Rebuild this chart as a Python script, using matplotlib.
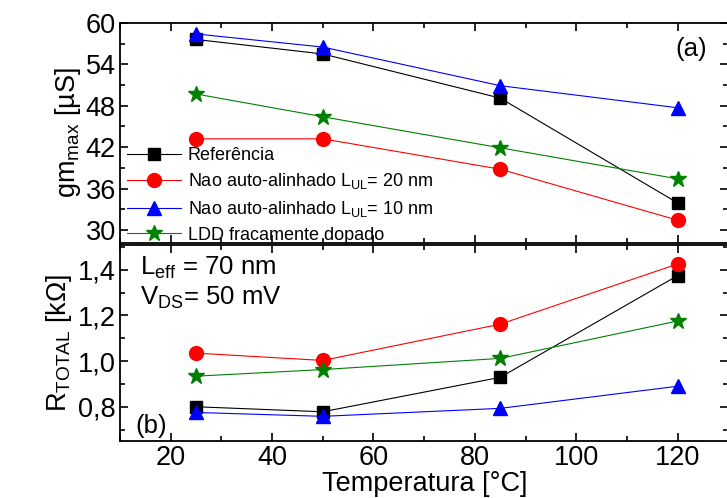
import numpy as np
import matplotlib
matplotlib.use("Agg")
from matplotlib import pyplot as plt
from matplotlib.ticker import MultipleLocator

plt.rcParams['font.family'] = ['Liberation Sans', 'DejaVu Sans']
plt.rcParams['mathtext.fontset'] = 'custom'
plt.rcParams['mathtext.rm'] = 'Liberation Sans'
plt.rcParams['mathtext.it'] = 'Liberation Sans'

temp = [25, 50, 85, 120]

gm_ref = [57.6, 55.5, 49.1, 33.9]
gm_l20 = [43.2, 43.2, 38.8, 31.4]
gm_l10 = [58.4, 56.5, 50.9, 47.7]
gm_ldd = [49.7, 46.4, 41.9, 37.4]

r_ref = [0.800, 0.778, 0.929, 1.375]
r_l20 = [1.035, 1.003, 1.162, 1.426]
r_l10 = [0.775, 0.758, 0.793, 0.890]
r_ldd = [0.934, 0.963, 1.012, 1.176]

labels = ["Referência",
          "Nao auto-alinhado L$_{UL}$= 20 nm",
          "Nao auto-alinhado L$_{UL}$= 10 nm",
          "LDD fracamente dopado"]
colors = ["black", "red", "blue", "green"]
markers = ["s", "o", "^", "*"]
msizes = [9, 10, 10, 12]

fig = plt.figure(figsize=(7.27, 4.98), dpi=100)
ax1 = fig.add_axes([0.165, 0.512, 0.837, 0.442])
ax2 = fig.add_axes([0.165, 0.1145, 0.837, 0.394])

for y, c, m, ms, lab in zip([gm_ref, gm_l20, gm_l10, gm_ldd], colors, markers, msizes, labels):
    ax1.plot(temp, y, color=c, marker=m, ms=ms, lw=0.8, label=lab)
for y, c, m, ms in zip([r_ref, r_l20, r_l10, r_ldd], colors, markers, msizes):
    ax2.plot(temp, y, color=c, marker=m, ms=ms, lw=0.8)

for ax in (ax1, ax2):
    ax.set_xlim(10, 130)
    ax.xaxis.set_major_locator(MultipleLocator(20))
    ax.xaxis.set_minor_locator(MultipleLocator(10))
    ax.tick_params(which='both', direction='in', top=True, right=True, width=1.2)
    ax.tick_params(which='major', length=6, labelsize=19.5, pad=3)
    ax.tick_params(which='minor', length=3.5)
    for s in ax.spines.values():
        s.set_linewidth(1.3)

ax1.set_ylim(28.1, 60)
ax1.yaxis.set_major_locator(MultipleLocator(6))
ax1.yaxis.set_minor_locator(MultipleLocator(3))
ax1.tick_params(labelbottom=False)
ax1.set_ylabel("gm$_{max}$ [µS]", fontsize=19.5, labelpad=2)
ax1.text(0.965, 0.85, "(a)", transform=ax1.transAxes, fontsize=18.5, ha='right')
ax1.legend(loc='lower left', bbox_to_anchor=(-0.01, -0.06), frameon=False, fontsize=13,
           handlelength=3, handletextpad=0.4, labelspacing=0.42, borderpad=0.2)

ax2.set_ylim(0.65, 1.51)
ax2.yaxis.set_major_locator(MultipleLocator(0.2))
ax2.yaxis.set_minor_locator(MultipleLocator(0.1))
ax2.yaxis.set_major_formatter(plt.FuncFormatter(lambda v, p: f"{v:.1f}".replace('.', ',')))
ax2.set_ylabel("R$_{TOTAL}$ [kΩ]", fontsize=19.5, labelpad=3)
ax2.set_xlabel("Temperatura [°C]", fontsize=19.5, labelpad=0)
ax2.text(14, 1.38, "L$_{eff}$ = 70 nm", fontsize=18.5)
ax2.text(14, 1.245, "V$_{DS}$= 50 mV", fontsize=18.5)
ax2.text(13, 0.685, "(b)", fontsize=18.5)

fig.savefig("out.png", dpi=100)
